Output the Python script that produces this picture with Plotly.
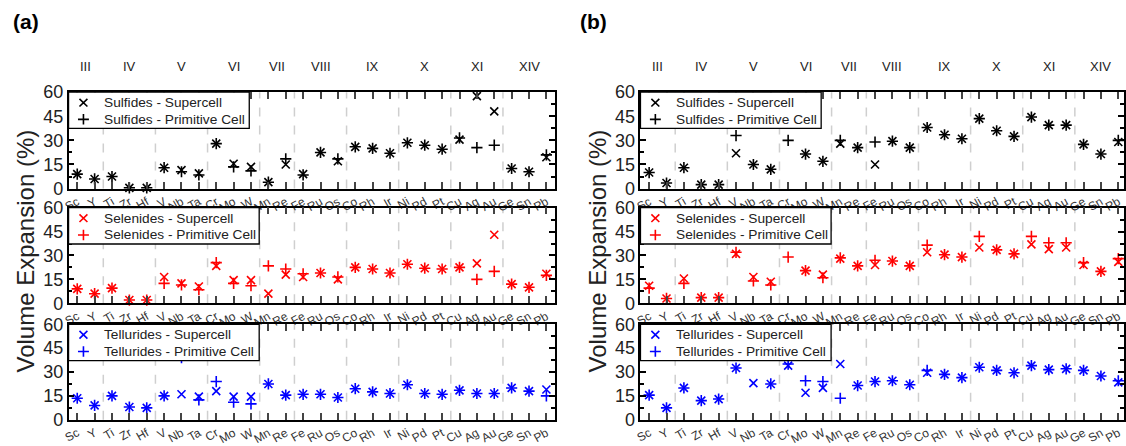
import plotly.graph_objects as go

# ---- data -------------------------------------------------------------
elements = ["Sc", "Y", "Ti", "Zr", "Hf", "V", "Nb", "Ta", "Cr", "Mo", "W", "Mn", "Re",
            "Fe", "Ru", "Os", "Co", "Rh", "Ir", "Ni", "Pd", "Pt", "Cu", "Ag", "Au",
            "Ge", "Sn", "Pb"]
group_names = ["III", "IV", "V", "VI", "VII", "VIII", "IX", "X", "XI", "XIV"]
group_sizes = [2, 3, 3, 3, 2, 3, 3, 3, 3, 3]

# panel (a)
a_sulf_super = [9, 6, 7.5, 0.5, 0.5, 13, 11.5, 9.5, 28, 15.5, 13.5, 4, 15, 9, 22.5, 17,
                26, 25, 22, 28.5, 27, 24.5, 30.5, 57.5, 48, 12.5, 10.5, 19.5]
a_sulf_prim = [9, 6, 7.5, 0.5, 0.5, 13, 10.5, 8.5, 28, 13.5, 11, 4, 18.5, 8.5, 22.5, 18.5,
               26, 25, 22, 28.5, 27, 24.5, 31.5, 25.5, 27, 12.5, 10.5, 21]
a_sel_super = [9, 6, 9.5, 2, 2, 16.5, 12.5, 10.5, 23.5, 14.5, 14.5, 6, 18, 16.5, 19, 15,
               22.5, 21.5, 19, 24.5, 22, 21.5, 22.5, 25, 43, 12, 10, 18.5]
a_sel_prim = [9, 6, 9.5, 2, 2, 12.5, 11.5, 8.5, 25.5, 12.5, 11, 23.5, 21.5, 18.5, 19, 16.5,
              22.5, 21.5, 19, 24.5, 22, 21.5, 22.5, 15, 20, 12, 10, 17.5]
a_tel_super = [13.5, 9, 15, 8, 7.5, 15, 16, 14.5, 18, 14.5, 14.5, 22.5, 15.5, 16, 16, 14,
               19.5, 17.5, 16.5, 22, 16.5, 16, 18.5, 16.5, 16.5, 20, 18, 19]
a_tel_prim = [13.5, 9, 15, 8, 7.5, 15, 39, 12.5, 24, 11, 10, 22.5, 15.5, 16, 16, 14,
              19.5, 17.5, 16.5, 22, 16.5, 16, 18.5, 16.5, 16.5, 20, 18, 15]

# panel (b)
b_sulf_super = [10, 3.5, 13, 2.5, 2.5, 22, 15, 12, None, 21.5, 17, 28, 25.5, 15, 29.5, 25.5,
                38, 33.5, 31, 43.5, 36, 32.5, 44.5, 39.5, 39.5, 27.5, 21.5, 29]
b_sulf_prim = [10, 3.5, 13, 2.5, 2.5, 33, 15, 12, 30, 21.5, 17, 30, 25.5, 29, 29.5, 25.5,
               38, 33.5, 31, 43.5, 36, 32.5, 44.5, 39.5, 39.5, 27.5, 21.5, 30]
b_sel_super = [11, 3, 15.5, 3.5, 3.5, 31, 16.5, 13.5, None, 20.5, 18, 28, 23.5, 24, 26.5, 23.5,
               32, 30.5, 29, 35, 33.5, 31, 37, 34, 35, 24, 20, 26]
b_sel_prim = [9.5, 3, 12.5, 3.5, 3.5, 32, 14, 11.5, 29, 20.5, 16, 28.5, 23.5, 27, 26.5, 23.5,
              36.5, 30.5, 29, 42, 33.5, 31, 42, 38, 38, 25.5, 20, 28]
b_tel_super = [15.5, 7.5, 20, 12, 13, 32.5, 23, 22.5, 34, 17, 20, 35, 21.5, 24, 24.5, 22,
               29.5, 28.5, 26.5, 33, 31, 29.5, 34, 31.5, 32, 31, 27.5, 23.5]
b_tel_prim = [15.5, 7.5, 20, 12, 13, 32.5, None, 22.5, 35, 24.5, 24, 13.5, 21.5, 24, 24.5, 22,
              31, 28.5, 26.5, 33, 31, 29.5, 34, 31.5, 32, 31, 27.5, 24.5]

y_ticks = [0, 15, 30, 45, 60]
y_minor = [7.5, 22.5, 37.5, 52.5]

# ---- layout geometry (pixels) -----------------------------------------
W, H = 1126, 446
FONT = "Liberation Sans, Arial, Helvetica, sans-serif"
step = 17.5                       # pixels per element
panel_left = [63, 639]            # left frame of each panel
row_px = [(86, 187), (207, 307), (329, 429)]
legend_w = [182, 192, 192]        # legend box widths per family
legend_h = 38

def px_x(p):
    return p / W

def px_y(p):
    return 1 - p / H

def x_glyph(cx, cy, r):
    return (f"M{px_x(cx - r)},{px_y(cy - r)} L{px_x(cx + r)},{px_y(cy + r)} "
            f"M{px_x(cx - r)},{px_y(cy + r)} L{px_x(cx + r)},{px_y(cy - r)}")

def plus_glyph(cx, cy, r):
    return (f"M{px_x(cx - r)},{px_y(cy)} L{px_x(cx + r)},{px_y(cy)} "
            f"M{px_x(cx)},{px_y(cy - r)} L{px_x(cx)},{px_y(cy + r)}")

positions = list(range(1, len(elements) + 1))

# group centres and boundaries from the group sizes
bounds, centres, start = [], [], 1
for s in group_sizes:
    centres.append(start + (s - 1) / 2)
    start += s
    bounds.append(start - 0.5)
bounds = bounds[:-1]

families = ["Sulfides", "Selenides", "Tellurides"]
colors = ["black", "#ff0000", "#0000ff"]
series = [
    [(a_sulf_super, a_sulf_prim), (a_sel_super, a_sel_prim), (a_tel_super, a_tel_prim)],
    [(b_sulf_super, b_sulf_prim), (b_sel_super, b_sel_prim), (b_tel_super, b_tel_prim)],
]

fig = go.Figure()
layout = dict(width=W, height=H, margin=dict(l=0, r=0, t=0, b=0),
              paper_bgcolor="white", plot_bgcolor="white",
              font=dict(family=FONT, color="#222"), showlegend=False)
shapes, annotations = [], []

idx = 0
for p in range(2):
    x0 = panel_left[p]
    x1 = min(x0 + len(elements) * step, W)
    xmax = 0.5 + (x1 - x0) / step
    for r in range(3):
        idx += 1
        sfx = "" if idx == 1 else str(idx)
        xa, ya = "x" + sfx, "y" + sfx
        top, bot = row_px[r]
        layout["xaxis" + sfx] = dict(
            domain=[px_x(x0), px_x(x1)], range=[0.5, xmax], anchor=ya,
            tickmode="array", tickvals=positions, ticktext=elements, tickangle=-30,
            ticks="inside", ticklen=7, tickwidth=1.5, tickcolor="#444",
            showline=True, linecolor="black", linewidth=1.5, mirror="ticks",
            showgrid=False, zeroline=False,
            tickfont=dict(size=12, color="#333", family=FONT))
        layout["yaxis" + sfx] = dict(
            domain=[px_y(bot), px_y(top)], range=[0, 60], anchor=xa,
            tickmode="array", tickvals=y_ticks,
            ticks="inside", ticklen=6, tickwidth=1.5, tickcolor="black",
            minor=dict(tickmode="array", tickvals=y_minor, ticks="inside",
                       ticklen=4, tickwidth=1.5, tickcolor="black"),
            showline=True, linecolor="black", linewidth=1.5, mirror="ticks",
            showgrid=False, zeroline=False,
            tickfont=dict(size=18, color="#222", family=FONT))
        sup, prim = series[p][r]
        fam, col = families[r], colors[r]
        fig.add_trace(go.Scatter(
            x=positions, y=sup, mode="markers", name=f"{fam} - Supercell",
            xaxis=xa, yaxis=ya, cliponaxis=False,
            marker=dict(symbol="x-thin", size=8, color=col,
                        line=dict(color=col, width=1.6))))
        fig.add_trace(go.Scatter(
            x=positions, y=prim, mode="markers", name=f"{fam} - Primitive Cell",
            xaxis=xa, yaxis=ya, cliponaxis=False,
            marker=dict(symbol="cross-thin", size=8, color=col,
                        line=dict(color=col, width=1.6))))
        for b in bounds:
            shapes.append(dict(type="line", xref=xa, yref=ya + " domain",
                               x0=b, x1=b, y0=0, y1=1, layer="below",
                               line=dict(color="#cfcfcf", width=1.5, dash="dash")))
        # legend box in the upper-left corner of the subplot
        shapes.append(dict(type="rect", xref="paper", yref="paper",
                           x0=px_x(x0), x1=px_x(x0 + legend_w[r]),
                           y0=px_y(top + legend_h), y1=px_y(top), layer="above",
                           fillcolor="white", line=dict(color="black", width=1.3)))
        row_y = [top + 11, top + 28.5]
        shapes.append(dict(type="path", xref="paper", yref="paper", layer="above",
                           path=x_glyph(x0 + 15, row_y[0], 4),
                           line=dict(color=col, width=1.6)))
        shapes.append(dict(type="path", xref="paper", yref="paper", layer="above",
                           path=plus_glyph(x0 + 15, row_y[1], 5.5),
                           line=dict(color=col, width=1.6)))
        for yy, label in zip(row_y, ["Supercell", "Primitive Cell"]):
            annotations.append(dict(text=f"{fam} - {label}", x=px_x(x0 + 34), y=px_y(yy),
                                    xref="paper", yref="paper", showarrow=False,
                                    xanchor="left", yanchor="middle",
                                    font=dict(size=13.7, color="#222")))
    # group labels above the panel
    for name, c in zip(group_names, centres):
        annotations.append(dict(text=name, x=c, y=px_y(59), xref="x" if p == 0 else "x4",
                                yref="paper", showarrow=False, xanchor="center",
                                yanchor="middle", font=dict(size=13, color="#222")))
    # panel letter
    annotations.append(dict(text="<b>(%s)</b>" % "ab"[p], x=px_x([5, 576][p]), y=px_y(12),
                            xref="paper", yref="paper", showarrow=False,
                            xanchor="left", yanchor="middle",
                            font=dict(size=21, color="black")))
    # shared y title
    annotations.append(dict(text="Volume Expansion (%)", x=px_x([20, 596][p]),
                            y=px_y(252), xref="paper", yref="paper", showarrow=False,
                            textangle=-90, xanchor="center", yanchor="middle",
                            font=dict(size=24, color="#222")))

layout["shapes"] = shapes
layout["annotations"] = annotations
fig.update_layout(**layout)
fig.write_html("out.html")
